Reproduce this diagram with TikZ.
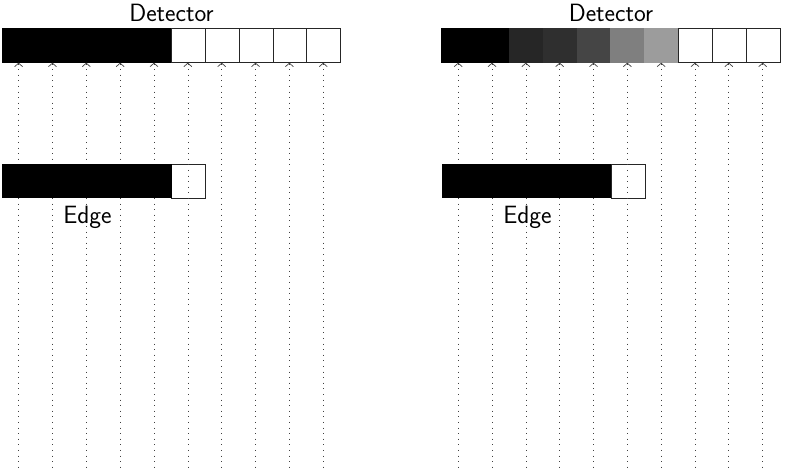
\documentclass[tikz,border=0pt]{standalone}
\usetikzlibrary{arrows.meta}
\begin{document}
\begin{tikzpicture}[x=1pt,y=-1pt,
  cell/.style={rectangle,inner sep=0pt,outer sep=0pt,minimum width=33.85pt,minimum height=34pt,line width=0.8pt},
  wcell/.style={cell,draw=black!85,fill=white},
  bcell/.style={cell,fill=#1,draw=#1},
  ray/.style={draw=black!75,line width=0.7pt,dash pattern=on 0.7pt off 4.9pt,
    {Straight Barb[length=3.5pt,width=8pt,line width=0.7pt]}-},
  lbl/.style={font=\fontsize{25}{29}\sffamily,inner sep=0pt}]
\useasboundingbox (0,0) rectangle (785,471);
\definecolor{gA}{HTML}{262626}
\definecolor{gB}{HTML}{2F2F2F}
\definecolor{gC}{HTML}{454545}
\definecolor{gD}{HTML}{7F7F7F}
\definecolor{gE}{HTML}{9C9C9C}
% left detector
\foreach \i in {0,...,4} {\node[bcell=black] (L\i) at ({19.1+33.85*\i},45.7) {};}
\foreach \i in {5,...,9} {\node[wcell] (L\i) at ({19.1+33.85*\i},45.7) {};}
% right detector
\foreach \i/\c in {0/black,1/black,2/gA,3/gB,4/gC,5/gD,6/gE} {\node[bcell=\c] (R\i) at ({458.6+33.83*\i},45.7) {};}
\foreach \i in {7,8,9} {\node[wcell] (R\i) at ({458.6+33.83*\i},45.7) {};}
\node[lbl] (detL) at (171.5,13) {Detector};
\node[lbl] (detR) at (611,13) {Detector};
% edge white ends
\node[wcell] (eLw) at (188.6,181) {};
\node[wcell] (eRw) at (628.3,181) {};
% rays
\foreach \i in {0,...,9} {
  \coordinate (bL\i) at ({18.6+33.85*\i},471);
  \coordinate (bR\i) at ({458.2+33.83*\i},471);
  \draw[ray] (L\i.south -| bL\i) -- (bL\i);
  \draw[ray] (R\i.south -| bR\i) -- (bR\i);
}
% edge black parts
\node[cell,fill=black,minimum width=169.5pt] (eL) at (86.95,181) {};
\node[cell,fill=black,minimum width=169.5pt] (eR) at (526.45,181) {};
\node[lbl] (edgeL) at (87.5,217) {Edge};
\node[lbl] (edgeR) at (527.5,217) {Edge};
\end{tikzpicture}
\end{document}
